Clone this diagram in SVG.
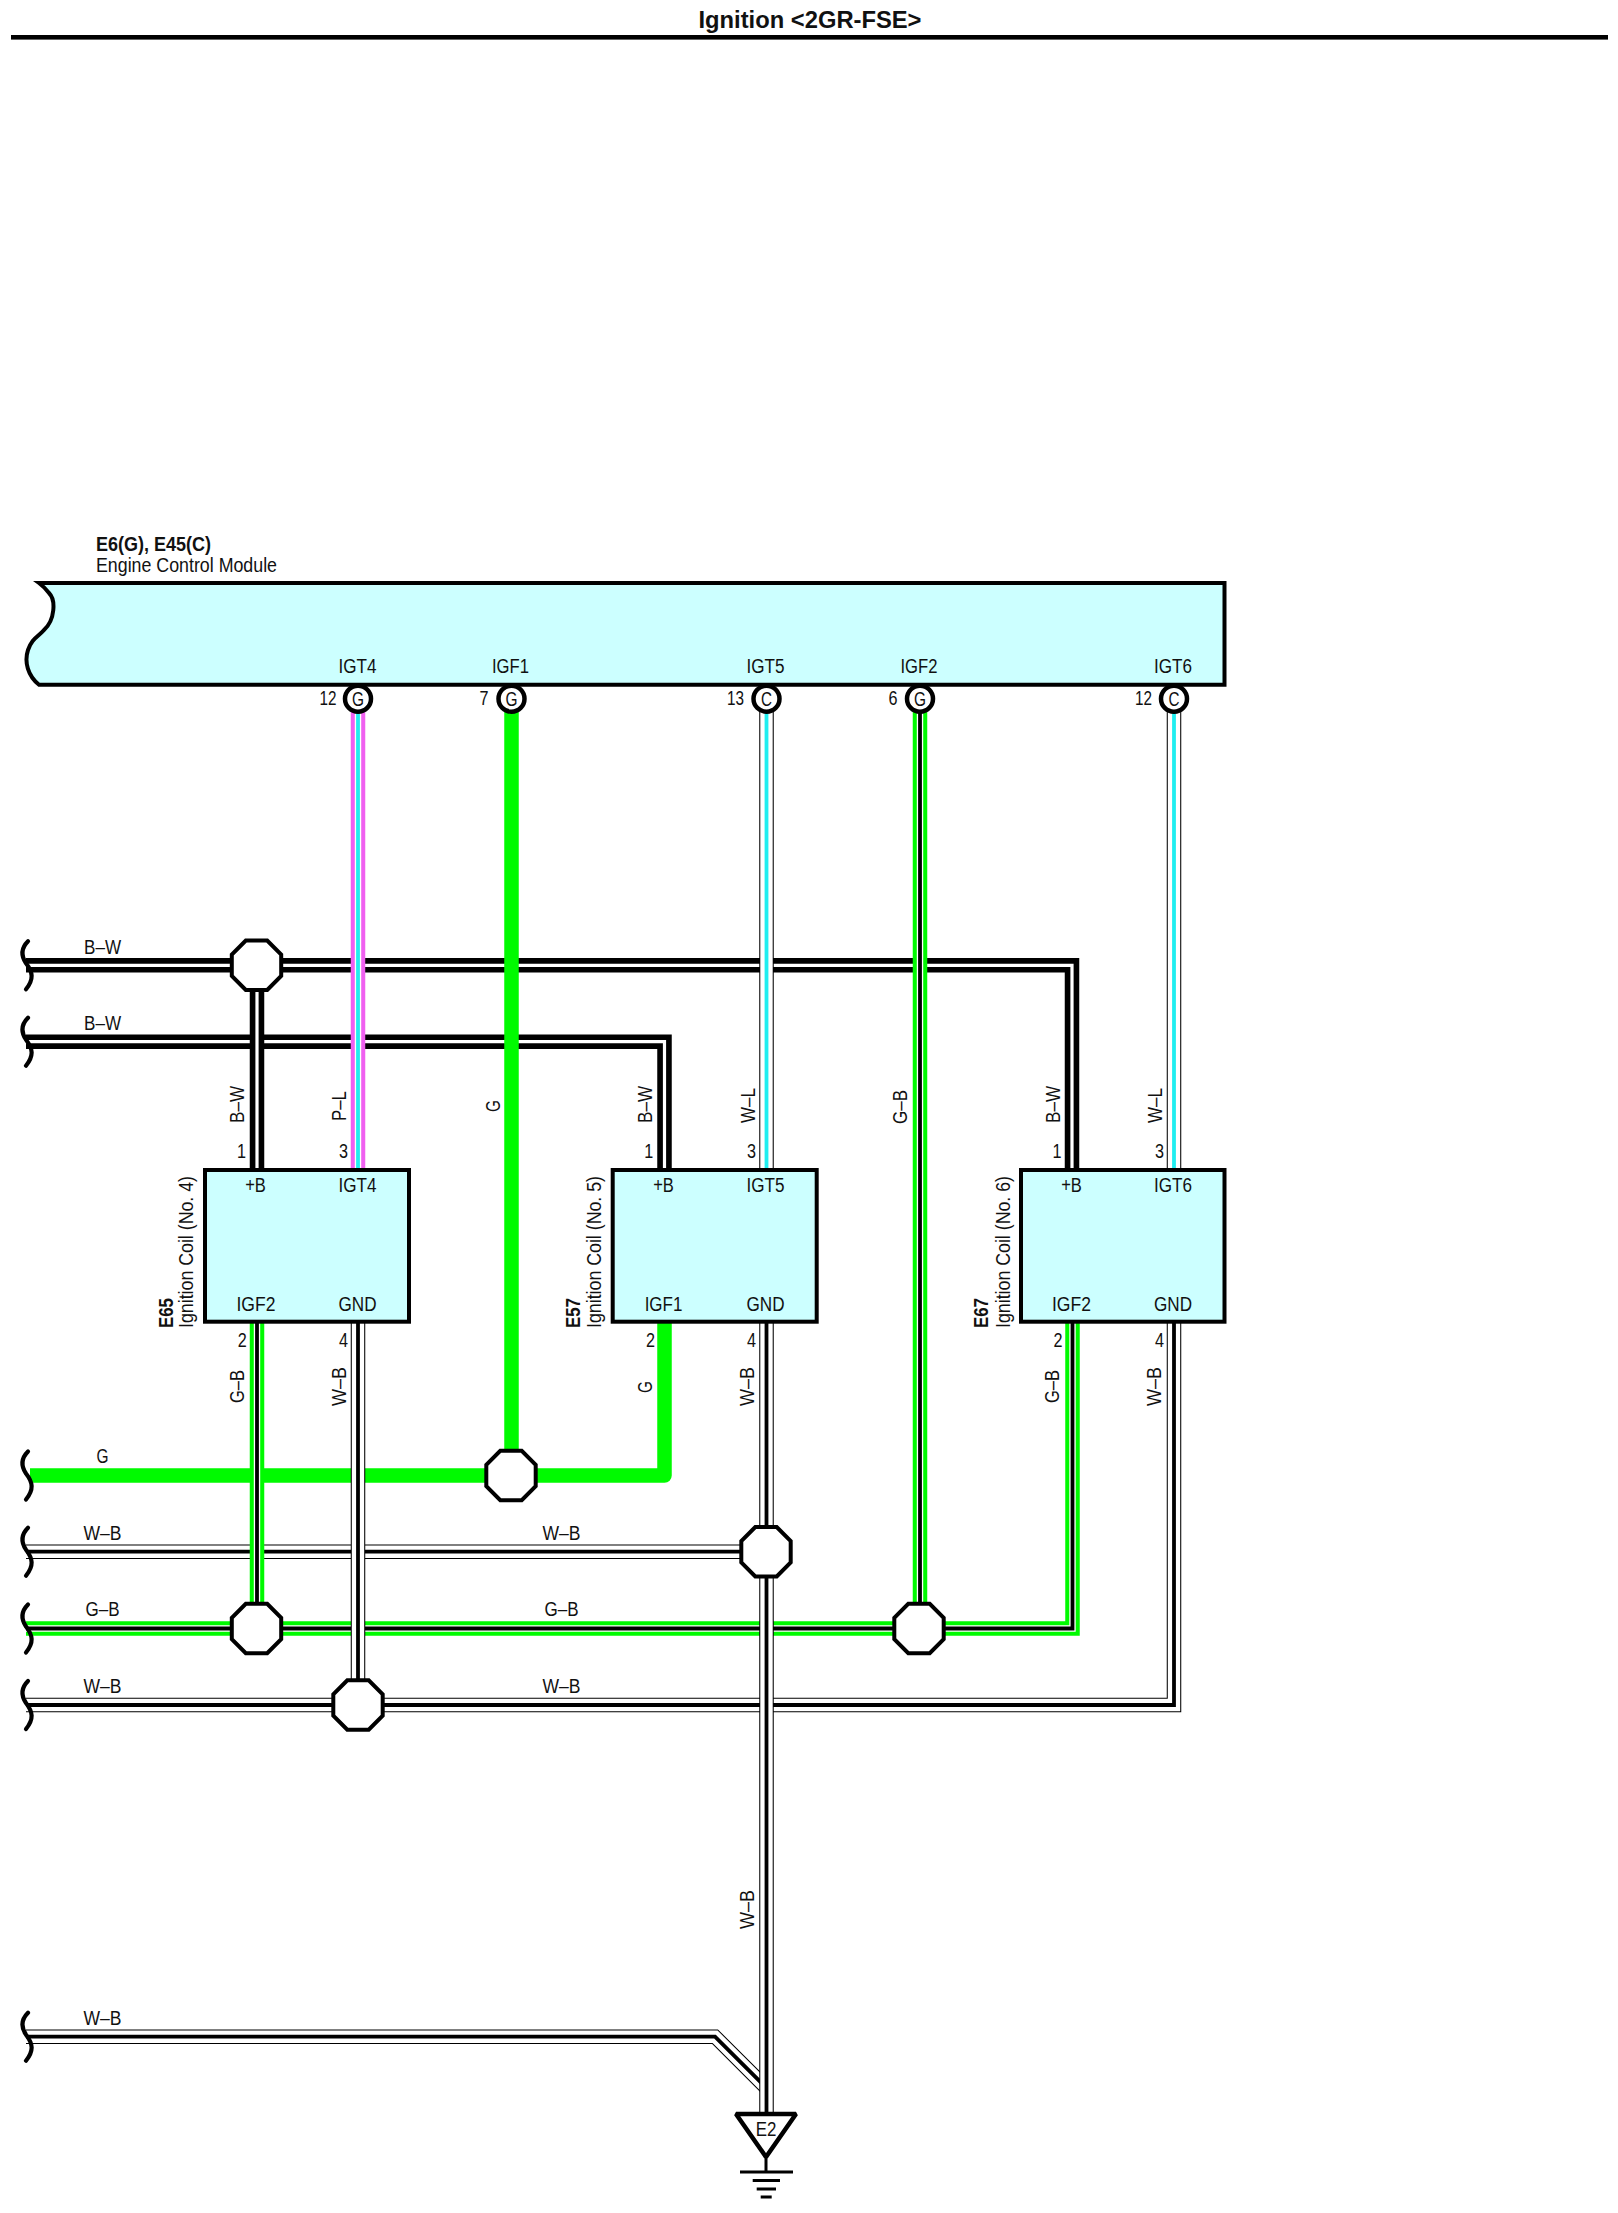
<svg xmlns="http://www.w3.org/2000/svg" xmlns:xlink="http://www.w3.org/1999/xlink" width="1618" height="2213" viewBox="0 0 1618 2213">
<style>
text{font-family:"Liberation Sans",Arial,sans-serif;font-size:20.5px;fill:#111}
.m{text-anchor:middle}.e{text-anchor:end}.b{font-weight:bold}
.w{fill:none;stroke-linejoin:miter}
.k15{stroke:#000;stroke-width:14.5}.g15{stroke:#00fa00;stroke-width:14.5}.p15{stroke:#f060f0;stroke-width:14.5}
.wh3{stroke:#fff;stroke-width:3.2}.wh7{stroke:#fff;stroke-width:6.4}.wh12{stroke:#fff;stroke-width:12.4}
.k4{stroke:#000;stroke-width:3.8}.c4{stroke:#20eef0;stroke-width:3.8}
.box{fill:#ccffff;stroke:#000;stroke-width:4;stroke-linejoin:miter}
.pin{fill:#fff;stroke:#000;stroke-width:4.5}
.j{fill:#fff;stroke:#000;stroke-width:4}
.br{fill:none;stroke:#000;stroke-width:4.2;stroke-linecap:round}
.gnd{fill:none;stroke:#000}
</style>
<defs>
<polygon id="oct" points="-10.7,-24.7 10.7,-24.7 24.7,-10.7 24.7,10.7 10.7,24.7 -10.7,24.7 -24.7,10.7 -24.7,-10.7"/>
<path id="brk" d="M28,-24 C20,-16 22,-8 26,-2 C33,7 34,14 26,24"/>
<path id="a" d="M26,965.3H1072V1170"/>
<path id="b" d="M26,1041.7H664.5V1170"/>
<path id="c" d="M30,1475.5H664.5V1322"/>
<path id="d" d="M26,1551.7H766"/>
<path id="e" d="M26,1628.5H1072.5V1322"/>
<path id="f" d="M26,1705H1174V1322"/>
<path id="g" d="M26,2036.7H715L766.5,2088"/>
<path id="h" d="M358,711V1170"/>
<path id="i" d="M511.5,711V1475.5"/>
<path id="l" d="M766.5,711V1170"/>
<path id="m" d="M920,711V1628"/>
<path id="n" d="M1174,711V1170"/>
<path id="o" d="M257,965V1170"/>
<path id="q" d="M257,1322V1628"/>
<path id="r" d="M358,1322V1705"/>
<path id="s" d="M766.5,1322V2113"/>
</defs>
<rect width="1618" height="2213" fill="#fff"/>
<g id="title">
<text class="m b" x="810" y="28" style="font-size:24px" textLength="223" lengthAdjust="spacingAndGlyphs">Ignition &lt;2GR-FSE&gt;</text>
<rect x="11" y="35" width="1597" height="4.6" fill="#000"/>
</g>
<g id="connectors">
<g id="wires-horizontal" class="w">
<use xlink:href="#a" class="k15"/><use xlink:href="#a" class="wh3"/>
<use xlink:href="#b" class="k15"/><use xlink:href="#b" class="wh3"/>
<use xlink:href="#c" class="g15" style="stroke-linejoin:round"/>
<use xlink:href="#d" class="k15"/><use xlink:href="#d" class="wh12"/><use xlink:href="#d" class="k4"/>
<use xlink:href="#e" class="g15"/><use xlink:href="#e" class="wh7"/><use xlink:href="#e" class="k4"/>
<use xlink:href="#f" class="k15"/><use xlink:href="#f" class="wh12"/><use xlink:href="#f" class="k4"/>
<use xlink:href="#g" class="k15"/><use xlink:href="#g" class="wh12"/><use xlink:href="#g" class="k4"/>
</g>
<g id="wires-vertical" class="w">
<use xlink:href="#h" class="p15"/><use xlink:href="#h" class="wh7"/><use xlink:href="#h" class="c4"/>
<use xlink:href="#i" class="g15"/>
<use xlink:href="#l" class="k15"/><use xlink:href="#l" class="wh12"/><use xlink:href="#l" class="c4"/>
<use xlink:href="#m" class="g15"/><use xlink:href="#m" class="wh7"/><use xlink:href="#m" class="k4"/>
<use xlink:href="#n" class="k15"/><use xlink:href="#n" class="wh12"/><use xlink:href="#n" class="c4"/>
<use xlink:href="#o" class="k15"/><use xlink:href="#o" class="wh3"/>
<use xlink:href="#q" class="g15"/><use xlink:href="#q" class="wh7"/><use xlink:href="#q" class="k4"/>
<use xlink:href="#r" class="k15"/><use xlink:href="#r" class="wh12"/><use xlink:href="#r" class="k4"/>
<use xlink:href="#s" class="k15"/><use xlink:href="#s" class="wh12"/><use xlink:href="#s" class="k4"/>
</g>
<g id="breaks">
<use xlink:href="#brk" class="br" y="965.3"/>
<use xlink:href="#brk" class="br" y="1041.7"/>
<use xlink:href="#brk" class="br" y="1475.5"/>
<use xlink:href="#brk" class="br" y="1551.7"/>
<use xlink:href="#brk" class="br" y="1628.5"/>
<use xlink:href="#brk" class="br" y="1705"/>
<use xlink:href="#brk" class="br" y="2036.7"/>
</g>
<g id="wire-labels">
<text class="m" x="102.5" y="953.5" textLength="37" lengthAdjust="spacingAndGlyphs">B–W</text>
<text class="m" x="102.5" y="1030" textLength="37" lengthAdjust="spacingAndGlyphs">B–W</text>
<text class="m" x="102.5" y="1463.3" textLength="12" lengthAdjust="spacingAndGlyphs">G</text>
<text class="m" x="102.5" y="1540.2" textLength="38" lengthAdjust="spacingAndGlyphs">W–B</text>
<text class="m" x="561.5" y="1540.2" textLength="38" lengthAdjust="spacingAndGlyphs">W–B</text>
<text class="m" x="102.5" y="1616.2" textLength="34" lengthAdjust="spacingAndGlyphs">G–B</text>
<text class="m" x="561.5" y="1616.2" textLength="34" lengthAdjust="spacingAndGlyphs">G–B</text>
<text class="m" x="102.5" y="1693" textLength="38" lengthAdjust="spacingAndGlyphs">W–B</text>
<text class="m" x="561.5" y="1693" textLength="38" lengthAdjust="spacingAndGlyphs">W–B</text>
<text class="m" x="102.5" y="2025" textLength="38" lengthAdjust="spacingAndGlyphs">W–B</text>
<text transform="translate(244,1123) rotate(-90)" textLength="37" lengthAdjust="spacingAndGlyphs">B–W</text>
<text transform="translate(346,1121) rotate(-90)" textLength="30" lengthAdjust="spacingAndGlyphs">P–L</text>
<text transform="translate(499.5,1112) rotate(-90)" textLength="12" lengthAdjust="spacingAndGlyphs">G</text>
<text transform="translate(652.3,1123) rotate(-90)" textLength="37" lengthAdjust="spacingAndGlyphs">B–W</text>
<text transform="translate(755,1123) rotate(-90)" textLength="35" lengthAdjust="spacingAndGlyphs">W–L</text>
<text transform="translate(907,1124) rotate(-90)" textLength="34" lengthAdjust="spacingAndGlyphs">G–B</text>
<text transform="translate(1060,1123) rotate(-90)" textLength="37" lengthAdjust="spacingAndGlyphs">B–W</text>
<text transform="translate(1162,1123) rotate(-90)" textLength="35" lengthAdjust="spacingAndGlyphs">W–L</text>
<text transform="translate(244,1403) rotate(-90)" textLength="33" lengthAdjust="spacingAndGlyphs">G–B</text>
<text transform="translate(346,1406) rotate(-90)" textLength="39" lengthAdjust="spacingAndGlyphs">W–B</text>
<text transform="translate(652,1393) rotate(-90)" textLength="12" lengthAdjust="spacingAndGlyphs">G</text>
<text transform="translate(754,1406) rotate(-90)" textLength="39" lengthAdjust="spacingAndGlyphs">W–B</text>
<text transform="translate(1059,1403) rotate(-90)" textLength="33" lengthAdjust="spacingAndGlyphs">G–B</text>
<text transform="translate(1161,1406) rotate(-90)" textLength="39" lengthAdjust="spacingAndGlyphs">W–B</text>
<text transform="translate(754,1929) rotate(-90)" textLength="39" lengthAdjust="spacingAndGlyphs">W–B</text>
</g>
</g>
<g id="ecm">
<path class="box" d="M39,583H1224.5V684.7H39C28,676 24,662 28,650C32,638 38,637 44,630C55,620 56,600 49,593C46,589 43,586 39,583Z"/>
<text class="b" x="96" y="550.7" textLength="115" lengthAdjust="spacingAndGlyphs">E6(G), E45(C)</text>
<text x="96" y="571.7" textLength="181" lengthAdjust="spacingAndGlyphs">Engine Control Module</text>
<text class="m" x="357.5" y="673" textLength="38" lengthAdjust="spacingAndGlyphs">IGT4</text>
<text class="m" x="510.5" y="673" textLength="37" lengthAdjust="spacingAndGlyphs">IGF1</text>
<text class="m" x="765.5" y="673" textLength="38" lengthAdjust="spacingAndGlyphs">IGT5</text>
<text class="m" x="919" y="673" textLength="37" lengthAdjust="spacingAndGlyphs">IGF2</text>
<text class="m" x="1173" y="673" textLength="38" lengthAdjust="spacingAndGlyphs">IGT6</text>
<circle class="pin" cx="358" cy="698.7" r="13"/><text class="m" x="358" y="706" textLength="12" lengthAdjust="spacingAndGlyphs">G</text>
<circle class="pin" cx="511.5" cy="698.7" r="13"/><text class="m" x="511.5" y="706" textLength="12" lengthAdjust="spacingAndGlyphs">G</text>
<circle class="pin" cx="766.5" cy="698.7" r="13"/><text class="m" x="766.5" y="706" textLength="11" lengthAdjust="spacingAndGlyphs">C</text>
<circle class="pin" cx="920" cy="698.7" r="13"/><text class="m" x="920" y="706" textLength="12" lengthAdjust="spacingAndGlyphs">G</text>
<circle class="pin" cx="1174" cy="698.7" r="13"/><text class="m" x="1174" y="706" textLength="11" lengthAdjust="spacingAndGlyphs">C</text>
<text class="e" x="336.5" y="705" textLength="17" lengthAdjust="spacingAndGlyphs">12</text>
<text class="e" x="488.5" y="705" textLength="9" lengthAdjust="spacingAndGlyphs">7</text>
<text class="e" x="744" y="705" textLength="17" lengthAdjust="spacingAndGlyphs">13</text>
<text class="e" x="897.5" y="705" textLength="9" lengthAdjust="spacingAndGlyphs">6</text>
<text class="e" x="1152" y="705" textLength="17" lengthAdjust="spacingAndGlyphs">12</text>
</g>
<g id="coil-e65">
<rect class="box" x="205" y="1170" width="204" height="151.7"/>
<text class="m" x="255.5" y="1191.5" textLength="20.7" lengthAdjust="spacingAndGlyphs">+B</text>
<text class="m" x="357.5" y="1191.5" textLength="38" lengthAdjust="spacingAndGlyphs">IGT4</text>
<text class="m" x="256" y="1310.7" textLength="39" lengthAdjust="spacingAndGlyphs">IGF2</text>
<text class="m" x="357.5" y="1310.7" textLength="38" lengthAdjust="spacingAndGlyphs">GND</text>
<text class="e" x="246" y="1157.7" textLength="9" lengthAdjust="spacingAndGlyphs">1</text>
<text class="e" x="348" y="1157.7" textLength="9" lengthAdjust="spacingAndGlyphs">3</text>
<text class="e" x="246.7" y="1347" textLength="9" lengthAdjust="spacingAndGlyphs">2</text>
<text class="e" x="348" y="1347" textLength="9" lengthAdjust="spacingAndGlyphs">4</text>
<text transform="translate(193.3,1328) rotate(-90)" textLength="152" lengthAdjust="spacingAndGlyphs">Ignition Coil (No. 4)</text>
<text class="b" transform="translate(172.5,1328) rotate(-90)" textLength="30" lengthAdjust="spacingAndGlyphs">E65</text>
</g>
<g id="coil-e57">
<rect class="box" x="612.7" y="1170" width="204" height="151.7"/>
<text class="m" x="663.5" y="1191.5" textLength="20.7" lengthAdjust="spacingAndGlyphs">+B</text>
<text class="m" x="765.5" y="1191.5" textLength="38" lengthAdjust="spacingAndGlyphs">IGT5</text>
<text class="m" x="663.5" y="1310.7" textLength="37.7" lengthAdjust="spacingAndGlyphs">IGF1</text>
<text class="m" x="765.5" y="1310.7" textLength="38" lengthAdjust="spacingAndGlyphs">GND</text>
<text class="e" x="653.3" y="1157.7" textLength="9" lengthAdjust="spacingAndGlyphs">1</text>
<text class="e" x="756" y="1157.7" textLength="9" lengthAdjust="spacingAndGlyphs">3</text>
<text class="e" x="655" y="1347" textLength="9" lengthAdjust="spacingAndGlyphs">2</text>
<text class="e" x="756" y="1347" textLength="9" lengthAdjust="spacingAndGlyphs">4</text>
<text transform="translate(601.3,1328) rotate(-90)" textLength="152" lengthAdjust="spacingAndGlyphs">Ignition Coil (No. 5)</text>
<text class="b" transform="translate(579.5,1328) rotate(-90)" textLength="30" lengthAdjust="spacingAndGlyphs">E57</text>
</g>
<g id="coil-e67">
<rect class="box" x="1021" y="1170" width="203.5" height="151.7"/>
<text class="m" x="1071.5" y="1191.5" textLength="20.7" lengthAdjust="spacingAndGlyphs">+B</text>
<text class="m" x="1173" y="1191.5" textLength="38" lengthAdjust="spacingAndGlyphs">IGT6</text>
<text class="m" x="1071.5" y="1310.7" textLength="39" lengthAdjust="spacingAndGlyphs">IGF2</text>
<text class="m" x="1173" y="1310.7" textLength="38" lengthAdjust="spacingAndGlyphs">GND</text>
<text class="e" x="1061.5" y="1157.7" textLength="9" lengthAdjust="spacingAndGlyphs">1</text>
<text class="e" x="1164" y="1157.7" textLength="9" lengthAdjust="spacingAndGlyphs">3</text>
<text class="e" x="1062.5" y="1347" textLength="9" lengthAdjust="spacingAndGlyphs">2</text>
<text class="e" x="1164" y="1347" textLength="9" lengthAdjust="spacingAndGlyphs">4</text>
<text transform="translate(1009.5,1328) rotate(-90)" textLength="152" lengthAdjust="spacingAndGlyphs">Ignition Coil (No. 6)</text>
<text class="b" transform="translate(988,1328) rotate(-90)" textLength="30" lengthAdjust="spacingAndGlyphs">E67</text>
</g>
<g id="junctions">
<use id="j1" xlink:href="#oct" class="j" x="256.5" y="965.3"/>
<use id="j2" xlink:href="#oct" class="j" x="511" y="1475.5"/>
<use id="j3" xlink:href="#oct" class="j" x="766" y="1551.7"/>
<use id="j4" xlink:href="#oct" class="j" x="256.5" y="1628.5"/>
<use id="j5" xlink:href="#oct" class="j" x="919" y="1628.5"/>
<use id="j6" xlink:href="#oct" class="j" x="358" y="1705"/>
</g>
<g id="ground-e2">
<polygon points="736,2114 796,2114 766,2157" fill="#fff" stroke="#000" stroke-width="4.5" stroke-linejoin="bevel"/>
<text class="m" x="766" y="2136" textLength="20.7" lengthAdjust="spacingAndGlyphs">E2</text>
<path class="gnd" stroke-width="3" d="M766,2157V2172"/>
<path class="gnd" stroke-width="3.2" d="M740,2172H793M752.7,2180.5H780M756.7,2189H776M760.7,2197H771.7"/>
</g>
</svg>
